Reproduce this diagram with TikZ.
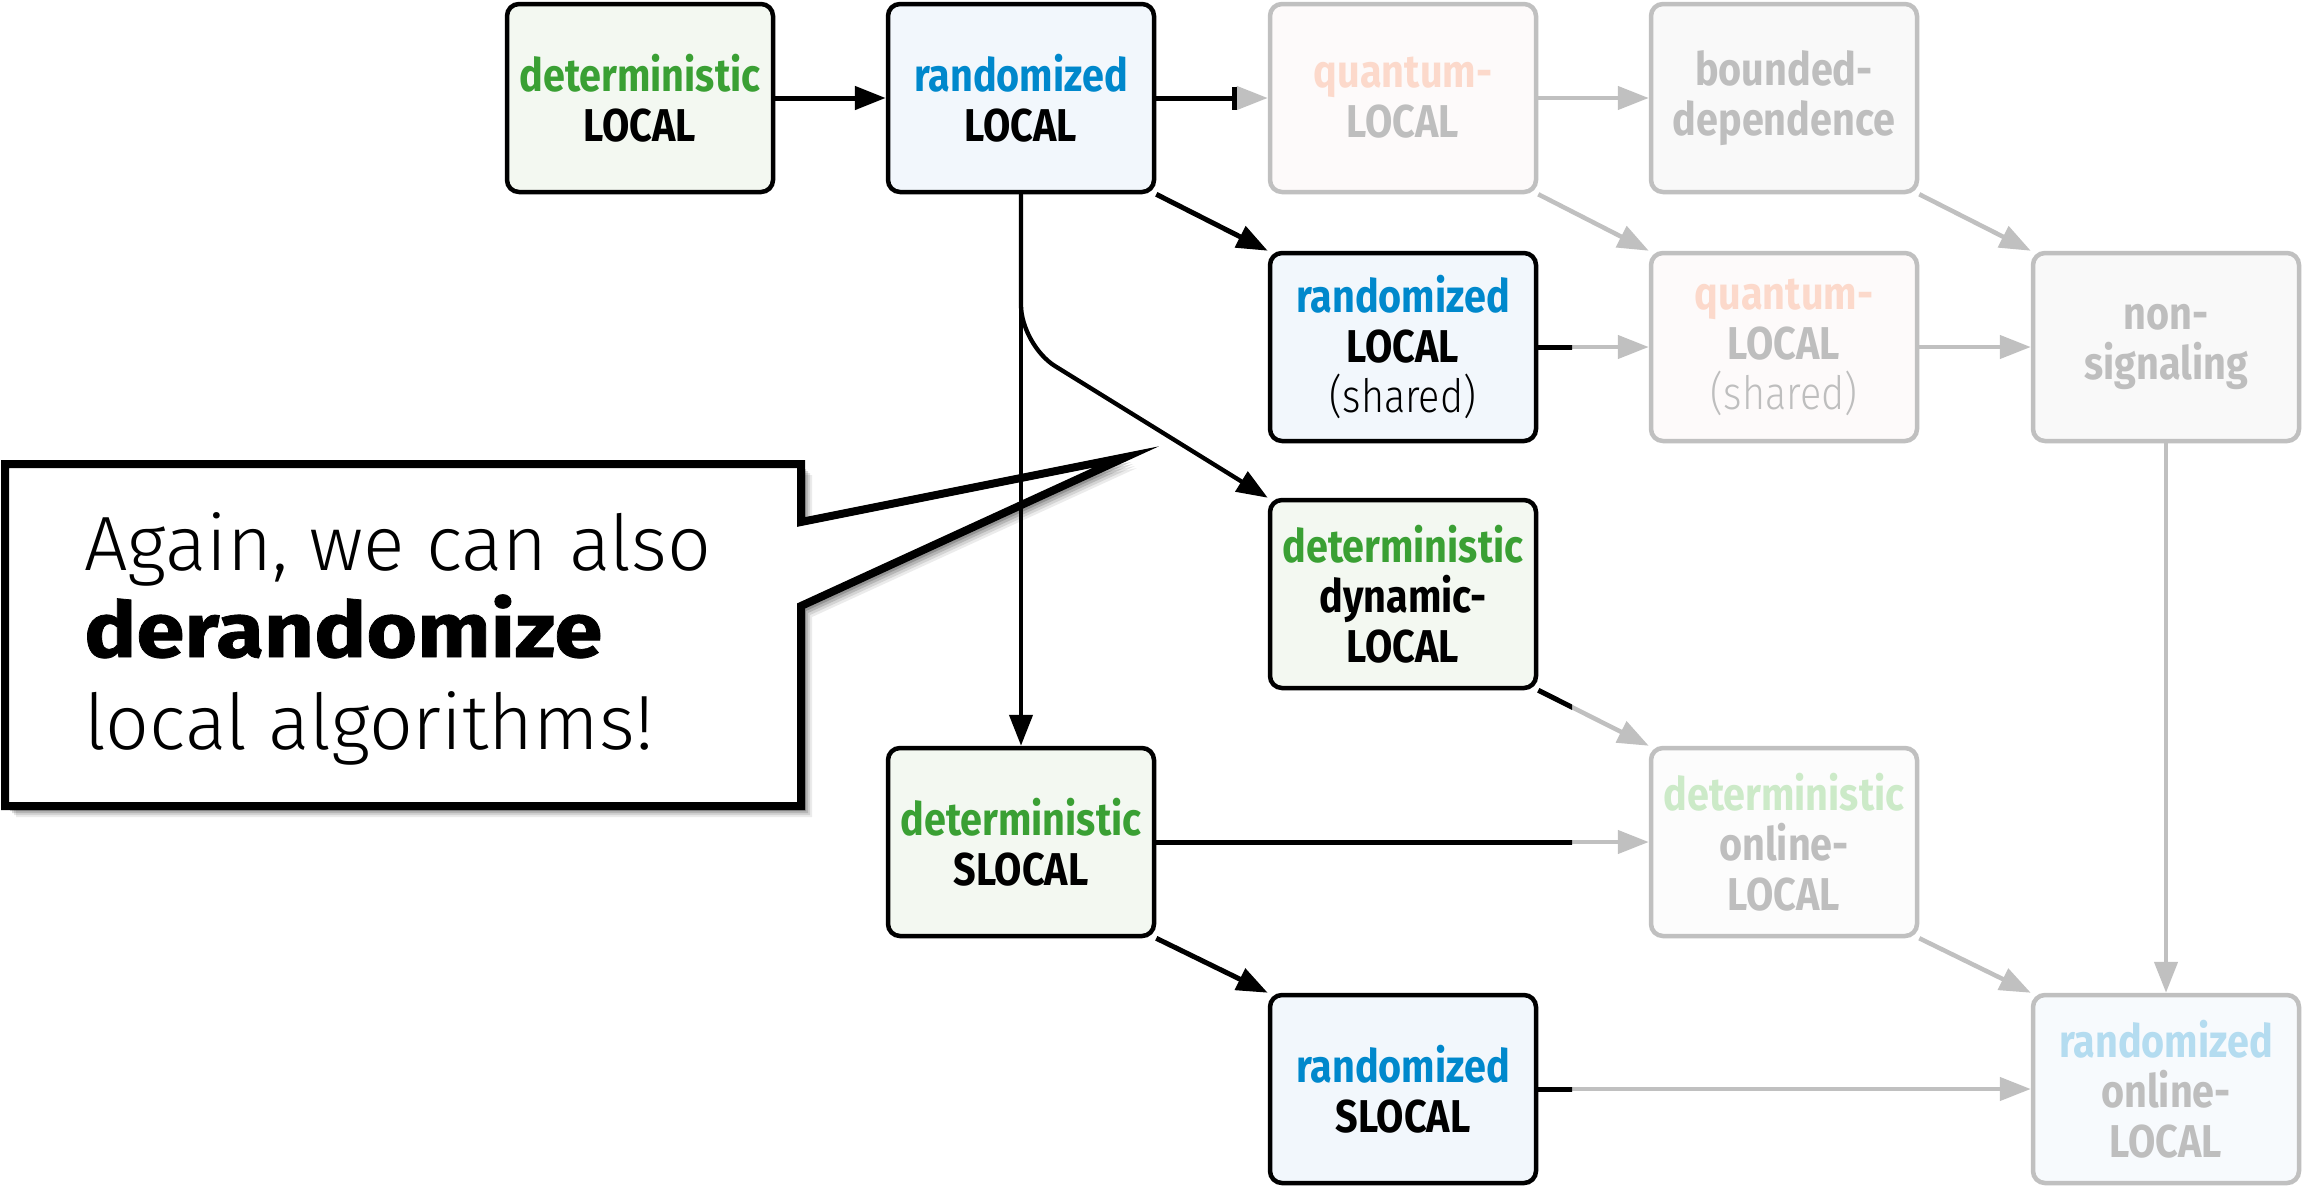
\documentclass[tikz,border=0pt]{standalone}
\usepackage{fontspec}
\setmainfont{Fira Sans}[FakeStretch=0.86]
\newfontfamily\thinfont{Fira Sans Light}[FakeStretch=0.86]
\newfontfamily\bubblefont{Fira Sans Light}
\newfontfamily\bubblebold{Fira Sans}[FakeStretch=1.13, FakeBold=1]
\usetikzlibrary{arrows.meta}

\definecolor{detgreen}{RGB}{58,160,52}
\definecolor{randblue}{RGB}{0,136,204}
\definecolor{greenfill}{RGB}{243,248,241}
\definecolor{bluefill}{RGB}{242,247,252}
\definecolor{fadeline}{RGB}{192,192,192}
\definecolor{fadetext}{RGB}{190,190,190}
\definecolor{fadequant}{RGB}{252,217,203}
\definecolor{fadegreen}{RGB}{204,234,200}
\definecolor{fadeblue}{RGB}{180,220,240}
\definecolor{quantfill}{RGB}{253,250,250}
\definecolor{grayfill}{RGB}{249,249,249}
\definecolor{fadebluefill}{RGB}{247,250,253}
\definecolor{fadegreenfill}{RGB}{252,252,252}

\tikzset{
  box/.style={rectangle, rounded corners=12pt, minimum width=266pt,
    minimum height=188pt, inner sep=0pt, align=center, line width=4.5pt,
    font=\fontsize{46}{50}\selectfont\bfseries},
  livebox/.style={box, draw=black, text=black},
  fadebox/.style={box, draw=fadeline, text=fadetext},
  link/.style={line width=5pt, draw=black, -{Triangle[length=31pt,width=23pt]}},
  thinlink/.style={link, line width=4.3pt},
  fadelink/.style={line width=4.5pt, draw=fadeline, -{Triangle[length=31pt,width=23pt]}},
  solidpart/.style={line width=5pt, draw=black},
  bubble/.style={line width=8pt, draw=black, fill=white, miter limit=20},
  bubbletext/.style={anchor=base west, inner sep=0pt, text=black},
  bubbleshade/.style={fill=black, fill opacity=#1},
}

\begin{document}
\begin{tikzpicture}[x=1pt,y=-1pt]
\fill[white] (0,0) rectangle (2305,1189);
\useasboundingbox (0,0) rectangle (2305,1189);

% first row
\node[livebox, fill=greenfill] (detL) at (640,98)
  {{\color{detgreen}deterministic}\\LOCAL};
\node[livebox, fill=bluefill] (randL) at (1021,98)
  {{\color{randblue}randomized}\\LOCAL};
\node[fadebox, fill=quantfill] (quantL) at (1403,98)
  {{\color{fadequant}quantum-}\\LOCAL};
\node[fadebox, fill=grayfill] (bdep) at (1784,98)
  {bounded-\\dependence};

% second row
\node[livebox, fill=bluefill] (randLs) at (1403,347)
  {{\color{randblue}randomized}\\LOCAL\\{\thinfont\mdseries (shared)}};
\node[fadebox, fill=quantfill] (quantLs) at (1784,347)
  {{\color{fadequant}quantum-}\\LOCAL\\{\thinfont\mdseries (shared)}};
\node[fadebox, fill=grayfill] (nonsig) at (2166,347)
  {non-\\signaling};

% third row
\node[livebox, fill=greenfill] (detdyn) at (1403,594)
  {{\color{detgreen}deterministic}\\dynamic-\\LOCAL};

% fourth row
\node[livebox, fill=greenfill] (detSL) at (1021,842)
  {{\color{detgreen}deterministic}\\SLOCAL};
\node[fadebox, fill=fadegreenfill] (detonl) at (1784,842)
  {{\color{fadegreen}deterministic}\\online-\\LOCAL};

% fifth row
\node[livebox, fill=bluefill] (randSL) at (1403,1089)
  {{\color{randblue}randomized}\\SLOCAL};
\node[fadebox, fill=fadebluefill] (randonl) at (2166,1089)
  {{\color{fadeblue}randomized}\\online-\\LOCAL};

% speech bubble with a soft shadow
\foreach \d/\o in {11/0.08, 9/0.10, 7/0.14, 5/0.18} {
  \fill[bubbleshade=\o, shift={(\d,\d)}] (5,464) -- (801,464) -- (801,522)
    -- (1126,457) -- (801,606) -- (801,806) -- (5,806) -- cycle;
}
\path[bubble] (5,464) -- (801,464) -- (801,522) -- (1126,457) -- (801,606)
  -- (801,806) -- (5,806) -- cycle;
\node[bubbletext, font=\bubblefont\fontsize{77}{90}\selectfont] (line1) at (84,570)
  {Again, we can also};
\node[bubbletext, font=\bubblebold\fontsize{77}{90}\selectfont\bfseries] (line2) at (84,657)
  {derandomize};
\node[bubbletext, font=\bubblefont\fontsize{77}{90}\selectfont] (line3) at (84,749)
  {local algorithms!};

% faded relations
\draw[fadelink] (randL) -- (quantL);
\draw[fadelink] (quantL) -- (bdep);
\draw[fadelink] (quantL.south east) -- (quantLs.north west);
\draw[fadelink] (bdep.south east) -- (nonsig.north west);
\draw[fadelink] (randLs) -- (quantLs);
\draw[fadelink] (quantLs) -- (nonsig);
\draw[fadelink] (nonsig) -- (randonl);
\draw[fadelink] (detdyn.south east) -- (detonl.north west);
\draw[fadelink] (detSL) -- (detonl);
\draw[fadelink] (detonl.south east) -- (randonl.north west);
\draw[fadelink] (randSL) -- (randonl);

% revealed parts of the faded relations
\coordinate (stop) at (1237,98);
\draw[solidpart, -{Bar[width=23pt]}] (randL.east) -- (stop);
\begin{scope}
  \clip (0,0) rectangle (1572,1189);
  \draw[solidpart] (randLs) -- (quantLs);
  \draw[solidpart] (detdyn.south east) -- (detonl.north west);
  \draw[solidpart] (detSL) -- (detonl);
  \draw[solidpart] (randSL) -- (randonl);
\end{scope}

% established relations
\coordinate (bend) at (1021,345);
\draw[link] (detL) -- (randL);
\draw[link] (randL.south east) -- (randLs.north west);
\draw[thinlink] (randL) -- (detSL);
\draw[thinlink, rounded corners=40pt] (randL.south) -- (bend) -- (detdyn.north west);
\draw[link] (detSL.south east) -- (randSL.north west);
\end{tikzpicture}
\end{document}
